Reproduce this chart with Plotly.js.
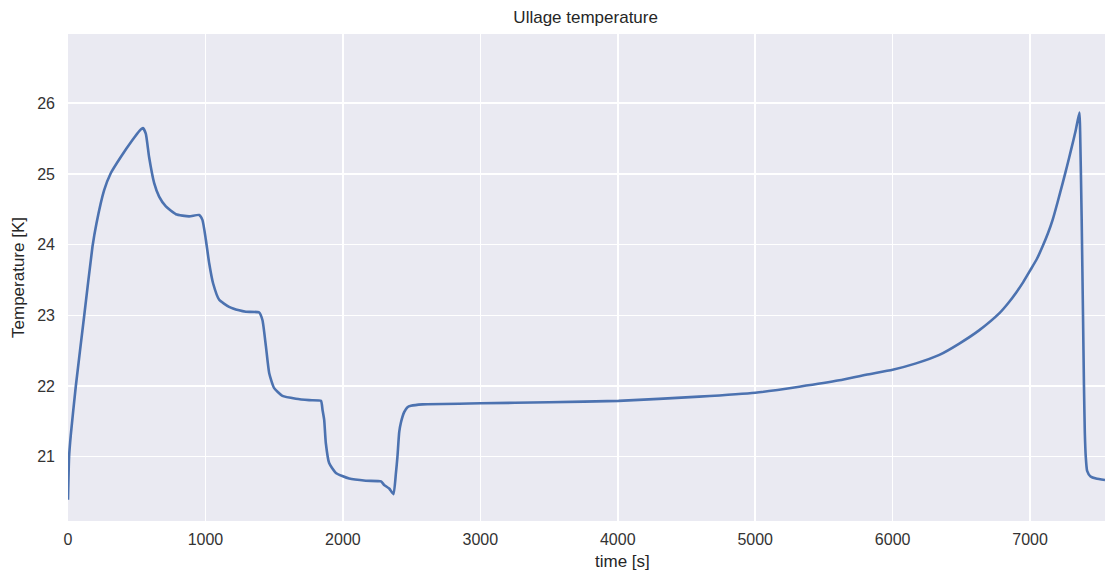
<!DOCTYPE html>
<html>
<head>
<meta charset="utf-8">
<script src="https://cdn.plot.ly/plotly-3.0.1.min.js"></script>
<style>html,body{margin:0;padding:0;background:#fff;}#chart{width:1105px;height:574px;}</style>
</head>
<body>
<div id="chart"></div>
<script>
const time_s = [0, 8, 20, 57, 117, 178, 207, 263, 311, 384, 469, 520, 545, 566, 590, 627, 663, 712, 785, 881, 954, 978, 1003, 1027, 1056, 1100, 1172, 1245, 1294, 1391, 1415, 1440, 1464, 1500, 1560, 1658, 1755, 1840, 1852, 1864, 1876, 1900, 1949, 2046, 2167, 2277, 2300, 2337, 2368, 2386, 2397, 2410, 2422, 2446, 2470, 2495, 2579, 3004, 3500, 4006, 4593, 5001, 5321, 5612, 5806, 6000, 6170, 6340, 6485, 6631, 6777, 6840, 6898, 6950, 7002, 7050, 7092, 7130, 7164, 7200, 7237, 7270, 7298, 7330, 7359, 7364, 7375, 7385, 7392, 7398, 7405, 7415, 7440, 7480, 7545];
const temp_K = [20.39, 21.0, 21.3, 22.0, 22.98, 23.97, 24.30, 24.77, 25.01, 25.24, 25.48, 25.61, 25.65, 25.57, 25.24, 24.87, 24.68, 24.54, 24.43, 24.40, 24.42, 24.35, 24.07, 23.74, 23.45, 23.22, 23.12, 23.07, 23.05, 23.04, 22.93, 22.56, 22.18, 21.97, 21.86, 21.82, 21.80, 21.79, 21.66, 21.52, 21.19, 20.91, 20.77, 20.69, 20.66, 20.65, 20.60, 20.55, 20.47, 20.77, 21.0, 21.35, 21.48, 21.63, 21.70, 21.72, 21.74, 21.755, 21.77, 21.79, 21.85, 21.905, 21.99, 22.08, 22.16, 22.23, 22.32, 22.44, 22.60, 22.79, 23.03, 23.17, 23.32, 23.47, 23.64, 23.80, 23.98, 24.16, 24.35, 24.60, 24.87, 25.12, 25.34, 25.60, 25.87, 25.6, 24.4, 23.0, 22.0, 21.35, 21.0, 20.8, 20.72, 20.69, 20.67];
const xTicks = [0, 1000, 2000, 3000, 4000, 5000, 6000, 7000];
const yTicks = [21, 22, 23, 24, 25, 26];

const font = "Liberation Sans, Arial, sans-serif";
Plotly.newPlot('chart', [{
  x: time_s, y: temp_K, type: 'scatter', mode: 'lines',
  line: {color: '#4C72B0', width: 2.6, shape: 'spline', smoothing: 0.5},
  hoverinfo: 'skip'
}], {
  width: 1105, height: 574,
  margin: {l: 68, r: 0, t: 34, b: 53},
  paper_bgcolor: '#ffffff', plot_bgcolor: '#EAEAF2',
  showlegend: false,
  title: {text: 'Ullage temperature', x: 0.53, xanchor: 'center', y: 0.97, yanchor: 'middle',
          font: {family: font, size: 17, color: '#262626'}},
  xaxis: {range: [0, 7545], tickvals: xTicks, ticktext: xTicks.map(String),
          showgrid: true, gridcolor: '#ffffff', gridwidth: 1.6, zeroline: false, showline: false,
          ticks: '', ticklabelstandoff: 7,
          tickfont: {family: font, size: 16, color: '#333333'}},
  yaxis: {range: [20.09, 26.98], tickvals: yTicks, ticktext: yTicks.map(String),
          showgrid: true, gridcolor: '#ffffff', gridwidth: 1.6, zeroline: false, showline: false,
          ticks: '', ticklabelstandoff: 12,
          tickfont: {family: font, size: 16, color: '#333333'},
          title: {text: 'Temperature [K]', standoff: 8, font: {family: font, size: 17, color: '#262626'}}},
  annotations: [{text: 'time [s]', xref: 'paper', yref: 'paper', x: 0.535, y: -0.084,
                 xanchor: 'center', yanchor: 'middle', showarrow: false,
                 font: {family: font, size: 17, color: '#262626'}}]
}, {displayModeBar: false, staticPlot: true});
</script>
</body>
</html>
